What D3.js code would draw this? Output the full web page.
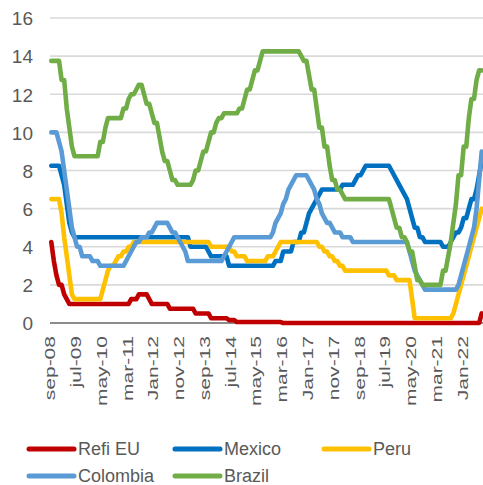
<!DOCTYPE html>
<html>
<head>
<meta charset="utf-8">
<script src="https://cdn.jsdelivr.net/npm/d3@7"></script>
<style>
  html, body { margin: 0; padding: 0; background: #ffffff; }
  svg { display: block; font-family: "Liberation Sans", Arial, sans-serif; }
</style>
</head>
<body>
<svg id="chart" width="483" height="485"></svg>
<script>
// Monthly policy rates, Sep-2008 .. Aug-2022 (one row per calendar year)
const firstMonth = new Date(2008, 8, 1);
const lastMonthExclusive = new Date(2022, 8, 1);

const refiEU = [
  4.25, 3.25, 2.5, 2.0,
  2.0, 1.5, 1.25, 1.0, 1.0, 1.0, 1.0, 1.0, 1.0, 1.0, 1.0, 1.0,
  1.0, 1.0, 1.0, 1.0, 1.0, 1.0, 1.0, 1.0, 1.0, 1.0, 1.0, 1.0,
  1.0, 1.0, 1.0, 1.25, 1.25, 1.25, 1.5, 1.5, 1.5, 1.5, 1.25, 1.0,
  1.0, 1.0, 1.0, 1.0, 1.0, 1.0, 0.75, 0.75, 0.75, 0.75, 0.75, 0.75,
  0.75, 0.75, 0.75, 0.75, 0.5, 0.5, 0.5, 0.5, 0.5, 0.5, 0.25, 0.25,
  0.25, 0.25, 0.25, 0.25, 0.25, 0.15, 0.15, 0.15, 0.05, 0.05, 0.05, 0.05,
  0.05, 0.05, 0.05, 0.05, 0.05, 0.05, 0.05, 0.05, 0.05, 0.05, 0.05, 0.05,
  0.05, 0.05, 0, 0, 0, 0, 0, 0, 0, 0, 0, 0,
  0, 0, 0, 0, 0, 0, 0, 0, 0, 0, 0, 0,
  0, 0, 0, 0, 0, 0, 0, 0, 0, 0, 0, 0,
  0, 0, 0, 0, 0, 0, 0, 0, 0, 0, 0, 0,
  0, 0, 0, 0, 0, 0, 0, 0, 0, 0, 0, 0,
  0, 0, 0, 0, 0, 0, 0, 0, 0, 0, 0, 0,
  0, 0, 0, 0, 0, 0, 0, 0.5
];

const mexico = [
  8.25, 8.25, 8.25, 8.25,
  7.75, 7.25, 6.25, 5.25, 4.75, 4.5, 4.5, 4.5, 4.5, 4.5, 4.5, 4.5,
  4.5, 4.5, 4.5, 4.5, 4.5, 4.5, 4.5, 4.5, 4.5, 4.5, 4.5, 4.5,
  4.5, 4.5, 4.5, 4.5, 4.5, 4.5, 4.5, 4.5, 4.5, 4.5, 4.5, 4.5,
  4.5, 4.5, 4.5, 4.5, 4.5, 4.5, 4.5, 4.5, 4.5, 4.5, 4.5, 4.5,
  4.5, 4.5, 4.0, 4.0, 4.0, 4.0, 4.0, 4.0, 4.0, 3.75, 3.5, 3.5,
  3.5, 3.5, 3.5, 3.5, 3.5, 3.0, 3.0, 3.0, 3.0, 3.0, 3.0, 3.0,
  3.0, 3.0, 3.0, 3.0, 3.0, 3.0, 3.0, 3.0, 3.0, 3.0, 3.0, 3.25,
  3.25, 3.25, 3.75, 3.75, 3.75, 3.75, 4.25, 4.25, 4.25, 4.75, 4.75, 5.25,
  5.75, 6.0, 6.25, 6.5, 6.75, 7.0, 7.0, 7.0, 7.0, 7.0, 7.0, 7.0,
  7.0, 7.25, 7.25, 7.25, 7.25, 7.25, 7.5, 7.75, 7.75, 8.0, 8.25, 8.25,
  8.25, 8.25, 8.25, 8.25, 8.25, 8.25, 8.25, 8.25, 8.0, 7.75, 7.5, 7.25,
  7.0, 6.75, 6.5, 6.0, 5.5, 5.0, 5.0, 4.5, 4.5, 4.25, 4.25, 4.25,
  4.25, 4.25, 4.25, 4.25, 4.0, 4.0, 4.0, 4.25, 4.5, 4.75, 4.75, 5.0,
  5.5, 5.5, 6.0, 6.5, 6.5, 7.0, 7.75, 8.5
];

const peru = [
  6.5, 6.5, 6.5, 6.5,
  5.75, 4.5, 3.5, 2.5, 1.5, 1.25, 1.25, 1.25, 1.25, 1.25, 1.25, 1.25,
  1.25, 1.25, 1.25, 1.25, 1.75, 2.25, 2.75, 3.0, 3.0, 3.25, 3.5, 3.5,
  3.75, 3.75, 4.0, 4.0, 4.25, 4.25, 4.25, 4.25, 4.25, 4.25, 4.25, 4.25,
  4.25, 4.25, 4.25, 4.25, 4.25, 4.25, 4.25, 4.25, 4.25, 4.25, 4.25, 4.25,
  4.25, 4.25, 4.25, 4.25, 4.25, 4.25, 4.25, 4.25, 4.25, 4.25, 4.0, 4.0,
  4.0, 4.0, 4.0, 4.0, 4.0, 4.0, 3.75, 3.75, 3.5, 3.5, 3.5, 3.5,
  3.25, 3.25, 3.25, 3.25, 3.25, 3.25, 3.25, 3.25, 3.5, 3.5, 3.5, 3.75,
  4.0, 4.25, 4.25, 4.25, 4.25, 4.25, 4.25, 4.25, 4.25, 4.25, 4.25, 4.25,
  4.25, 4.25, 4.25, 4.25, 4.0, 4.0, 3.75, 3.75, 3.5, 3.5, 3.25, 3.25,
  3.0, 3.0, 2.75, 2.75, 2.75, 2.75, 2.75, 2.75, 2.75, 2.75, 2.75, 2.75,
  2.75, 2.75, 2.75, 2.75, 2.75, 2.75, 2.75, 2.5, 2.5, 2.5, 2.25, 2.25,
  2.25, 2.25, 2.25, 2.25, 1.25, 0.25, 0.25, 0.25, 0.25, 0.25, 0.25, 0.25,
  0.25, 0.25, 0.25, 0.25, 0.25, 0.25, 0.25, 0.25, 0.5, 1.0, 1.5, 2.0,
  2.5, 3.0, 3.5, 4.0, 4.5, 5.0, 5.5, 6.0
];

const colombia = [
  10.0, 10.0, 10.0, 9.5,
  9.0, 8.0, 7.0, 6.0, 5.0, 4.5, 4.0, 4.0, 3.5, 3.5, 3.5, 3.5,
  3.25, 3.25, 3.25, 3.0, 3.0, 3.0, 3.0, 3.0, 3.0, 3.0, 3.0, 3.0,
  3.0, 3.25, 3.5, 3.75, 4.0, 4.25, 4.25, 4.5, 4.5, 4.5, 4.75, 4.75,
  5.0, 5.25, 5.25, 5.25, 5.25, 5.25, 5.0, 4.75, 4.75, 4.5, 4.25, 4.0,
  3.75, 3.25, 3.25, 3.25, 3.25, 3.25, 3.25, 3.25, 3.25, 3.25, 3.25, 3.25,
  3.25, 3.25, 3.25, 3.5, 3.75, 4.0, 4.25, 4.5, 4.5, 4.5, 4.5, 4.5,
  4.5, 4.5, 4.5, 4.5, 4.5, 4.5, 4.5, 4.5, 4.5, 4.5, 4.75, 5.25,
  5.5, 5.75, 6.25, 6.5, 7.0, 7.25, 7.5, 7.75, 7.75, 7.75, 7.75, 7.75,
  7.5, 7.25, 7.0, 6.5, 6.25, 5.75, 5.5, 5.25, 5.25, 5.0, 4.75, 4.75,
  4.75, 4.5, 4.5, 4.5, 4.5, 4.25, 4.25, 4.25, 4.25, 4.25, 4.25, 4.25,
  4.25, 4.25, 4.25, 4.25, 4.25, 4.25, 4.25, 4.25, 4.25, 4.25, 4.25, 4.25,
  4.25, 4.25, 4.25, 3.75, 3.25, 2.75, 2.5, 2.25, 2.0, 1.75, 1.75, 1.75,
  1.75, 1.75, 1.75, 1.75, 1.75, 1.75, 1.75, 1.75, 1.75, 1.75, 2.0, 2.5,
  3.0, 3.5, 4.0, 4.5, 5.0, 6.0, 7.5, 9.0
];

const brazil = [
  13.75, 13.75, 13.75, 13.75,
  12.75, 12.75, 11.25, 10.25, 9.25, 8.75, 8.75, 8.75, 8.75, 8.75, 8.75, 8.75,
  8.75, 8.75, 8.75, 9.5, 9.5, 10.25, 10.75, 10.75, 10.75, 10.75, 10.75, 10.75,
  11.25, 11.25, 11.75, 12.0, 12.0, 12.25, 12.5, 12.5, 12.0, 11.5, 11.5, 11.0,
  10.5, 10.5, 9.75, 9.0, 8.5, 8.5, 8.0, 7.5, 7.5, 7.25, 7.25, 7.25,
  7.25, 7.25, 7.25, 7.5, 8.0, 8.0, 8.5, 9.0, 9.0, 9.5, 10.0, 10.0,
  10.5, 10.75, 10.75, 11.0, 11.0, 11.0, 11.0, 11.0, 11.0, 11.25, 11.25, 11.75,
  12.25, 12.25, 12.75, 13.25, 13.25, 13.75, 14.25, 14.25, 14.25, 14.25, 14.25, 14.25,
  14.25, 14.25, 14.25, 14.25, 14.25, 14.25, 14.25, 14.25, 14.25, 14.0, 13.75, 13.75,
  13.0, 12.25, 12.25, 11.25, 10.25, 10.25, 9.25, 9.25, 8.25, 7.5, 7.5, 7.0,
  7.0, 6.75, 6.5, 6.5, 6.5, 6.5, 6.5, 6.5, 6.5, 6.5, 6.5, 6.5,
  6.5, 6.5, 6.5, 6.5, 6.5, 6.5, 6.5, 6.5, 6.0, 5.5, 5.0, 5.0,
  4.5, 4.5, 4.25, 3.75, 3.75, 3.0, 2.25, 2.25, 2.0, 2.0, 2.0, 2.0,
  2.0, 2.0, 2.0, 2.0, 2.75, 2.75, 3.5, 4.25, 5.25, 6.25, 7.75, 7.75,
  9.25, 9.25, 10.75, 11.75, 11.75, 12.75, 13.25, 13.25
];

// Every tenth month carries a label on the category axis
const tickLabels = ["sep-08", "jul-09", "may-10", "mar-11", "Jan-12", "nov-12", "sep-13",
  "jul-14", "may-15", "mar-16", "Jan-17", "nov-17", "sep-18", "jul-19", "may-20",
  "mar-21", "Jan-22"];
const tickEvery = 10;

const yTicks = [0, 2, 4, 6, 8, 10, 12, 14, 16];

const seriesNames = ["Refi EU", "Mexico", "Peru", "Colombia", "Brazil"];
const seriesValues = [refiEU, mexico, peru, colombia, brazil];
const seriesColors = ["#c00000", "#0070c0", "#ffc000", "#5b9bd5", "#70ad47"];

const months = d3.timeMonth.range(firstMonth, lastMonthExclusive);
seriesValues.forEach((vals, k) => {
  if (vals.length !== months.length) {
    throw new Error(seriesNames[k] + " has " + vals.length + " values, expected " + months.length);
  }
});

const svg = d3.select("#chart");
const plot = { left: 50, right: 483, top: 18, bottom: 323 };

const x = d3.scaleBand()
  .domain(d3.range(months.length))
  .range([plot.left, plot.right])
  .padding(0);
const xc = i => x(i) + x.bandwidth() / 2;

const y = d3.scaleLinear().domain([0, 16]).range([plot.bottom, plot.top]);

// Horizontal gridlines
svg.append("g")
  .selectAll("line")
  .data(yTicks.filter(t => t !== 0))
  .join("line")
  .attr("x1", plot.left)
  .attr("x2", plot.right)
  .attr("y1", d => y(d))
  .attr("y2", d => y(d))
  .attr("stroke", "#d9d9d9")
  .attr("stroke-width", 1.6);

// Value axis labels
const yAxis = d3.axisLeft(y).tickValues(yTicks).tickSize(0).tickPadding(0);
const yG = svg.append("g")
  .attr("transform", `translate(33,0)`)
  .call(yAxis);
yG.select(".domain").remove();
yG.selectAll("text")
  .attr("fill", "#595959")
  .attr("font-size", "19px")
  .attr("font-family", "'Liberation Sans', Arial, sans-serif")
  .attr("dy", "0.36em");

// Category axis baseline
svg.append("line")
  .attr("x1", plot.left)
  .attr("x2", plot.right)
  .attr("y1", y(0))
  .attr("y2", y(0))
  .attr("stroke", "#8c8c8c")
  .attr("stroke-width", 1.8);

// Category axis labels (rotated, stretched along reading direction)
const labelIdx = tickLabels.map((_, k) => k * tickEvery);
const xAxis = d3.axisBottom(x)
  .tickValues(labelIdx)
  .tickFormat(i => tickLabels[i / tickEvery])
  .tickSize(0)
  .tickPadding(0);
const xG = svg.append("g")
  .attr("transform", `translate(0,${y(0)})`)
  .call(xAxis);
xG.select(".domain").remove();
xG.selectAll(".tick text")
  .attr("fill", "#595959")
  .attr("font-size", "14.5px")
  .attr("font-family", "'Liberation Sans', Arial, sans-serif")
  .attr("text-anchor", "end")
  .attr("x", 0)
  .attr("y", 0)
  .attr("dy", "0.27em")
  .attr("transform", "translate(0,13) rotate(-90) scale(1.45,1)");

// Series lines
const line = d3.line()
  .x((d, i) => xc(i))
  .y(d => y(d))
  .curve(d3.curveLinear);

svg.append("g")
  .selectAll("path")
  .data(seriesValues)
  .join("path")
  .attr("d", d => line(d))
  .attr("fill", "none")
  .attr("stroke", (d, k) => seriesColors[k])
  .attr("stroke-width", 4.6)
  .attr("stroke-linejoin", "round")
  .attr("stroke-linecap", "round");

// Legend
const legendPos = [
  { x: 29, y: 449 }, { x: 175, y: 449 }, { x: 324, y: 449 },
  { x: 29, y: 476 }, { x: 175, y: 476 }
];
const lg = svg.append("g")
  .selectAll("g")
  .data(seriesNames)
  .join("g")
  .attr("transform", (d, k) => `translate(${legendPos[k].x},${legendPos[k].y})`);
lg.append("line")
  .attr("x1", 0).attr("x2", 45)
  .attr("y1", 0).attr("y2", 0)
  .attr("stroke", (d, k) => seriesColors[k])
  .attr("stroke-width", 5)
  .attr("stroke-linecap", "round");
lg.append("text")
  .attr("x", 49)
  .attr("y", 0)
  .attr("dy", "0.36em")
  .attr("fill", "#595959")
  .attr("font-size", "18px")
  .text(d => d);
</script>
</body>
</html>
